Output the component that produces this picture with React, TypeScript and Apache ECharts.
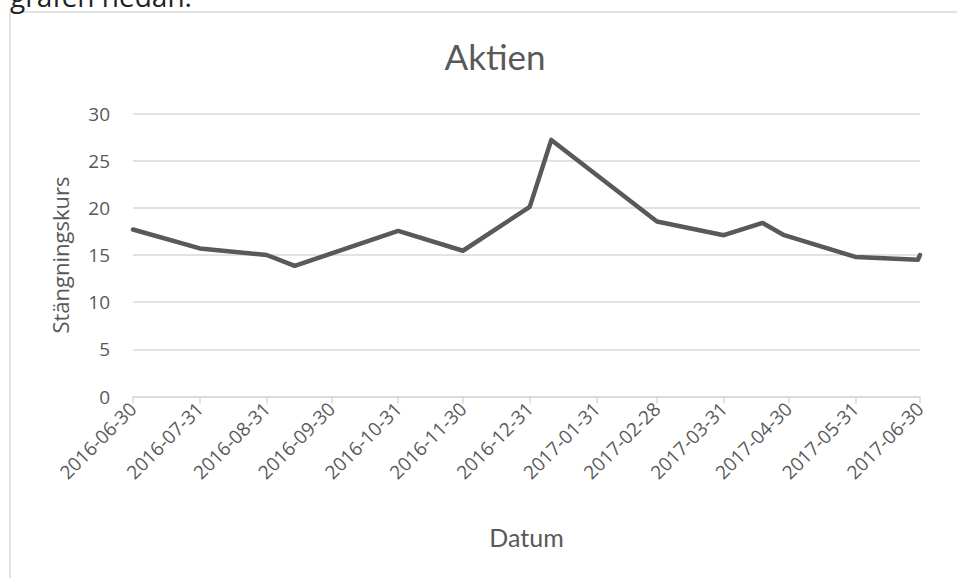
import React, { useEffect, useRef } from "react";
import * as echarts from "echarts";

// Data
const dates: string[] = [
  "2016-06-30", "2016-07-31", "2016-08-31", "2016-09-13", "2016-10-31",
  "2016-11-30", "2016-12-31", "2017-01-10", "2017-02-28", "2017-03-31",
  "2017-04-18", "2017-04-28", "2017-05-31", "2017-06-29", "2017-06-30",
];
const closes: number[] = [
  17.7, 15.7, 15.0, 13.85, 17.55,
  15.45, 20.1, 27.2, 18.55, 17.1,
  18.4, 17.1, 14.8, 14.5, 15.0,
];
const tickDates: string[] = [
  "2016-06-30", "2016-07-31", "2016-08-31", "2016-09-30", "2016-10-31",
  "2016-11-30", "2016-12-31", "2017-01-31", "2017-02-28", "2017-03-31",
  "2017-04-30", "2017-05-31", "2017-06-30",
];

const DAY = 86400000;
const toTs = (s: string) => {
  const [y, m, d] = s.split("-").map(Number);
  return Date.UTC(y, m - 1, d);
};
const pad = (n: number) => (n < 10 ? "0" + n : "" + n);
const fmt = (v: number) => {
  const d = new Date(Math.round(v / DAY) * DAY);
  return d.getUTCFullYear() + "-" + pad(d.getUTCMonth() + 1) + "-" + pad(d.getUTCDate());
};

export default function App() {
  const ref = useRef<HTMLDivElement>(null);
  useEffect(() => {
    if (!ref.current) return;
    const chart = echarts.init(ref.current, undefined, { renderer: "svg" });
    const ticks = tickDates.map(toTs);
    const geo = "Lato, 'Open Sans', sans-serif";
    const sans = "'Open Sans', 'Noto Sans', sans-serif";
    chart.setOption({
      animation: false,
      backgroundColor: "#ffffff",
      textStyle: { fontFamily: sans },
      title: {
        text: "Aktien",
        left: 490,
        top: 33,
        textAlign: "center",
        textStyle: { fontFamily: geo, fontSize: 35, fontWeight: "normal", color: "#595959" },
      },
      graphic: [
        {
          type: "rect",
          shape: { x: 10, y: 12, width: 1200, height: 1000 },
          style: { fill: "none", stroke: "#d9d9d9", lineWidth: 1.5 },
          silent: true,
        },
        {
          type: "text",
          x: 10,
          y: -18,
          style: { text: "grafen nedan.", fontFamily: sans, fontSize: 28, fill: "#222222" },
          silent: true,
        },
      ],
      grid: { left: 133, right: 37, top: 113.5, bottom: 181.5, containLabel: false },
      xAxis: {
        type: "value",
        min: ticks[0],
        max: ticks[ticks.length - 1],
        name: "Datum",
        nameLocation: "middle",
        nameGap: 128,
        nameTextStyle: { fontFamily: geo, fontSize: 25, color: "#595959" },
        axisLine: { show: true, lineStyle: { color: "#d9d9d9", width: 1.5 } },
        axisTick: { show: true, length: 7, customValues: ticks, lineStyle: { color: "#d9d9d9", width: 1.5 } },
        axisLabel: {
          customValues: ticks,
          rotate: 45,
          margin: 9,
          fontSize: 19,
          fontFamily: sans,
          color: "#595959",
          formatter: (v: number) => fmt(v),
          hideOverlap: false,
          showMinLabel: true,
          showMaxLabel: true,
        },
        splitLine: { show: false },
      },
      yAxis: {
        type: "value",
        min: 0,
        max: 30,
        interval: 5,
        name: "Stängningskurs",
        nameLocation: "middle",
        nameRotate: 90,
        nameGap: 62,
        nameTextStyle: { fontFamily: sans, fontSize: 22, color: "#595959" },
        axisLine: { show: false },
        axisTick: { show: false },
        axisLabel: { margin: 23, fontSize: 19, fontFamily: sans, color: "#595959" },
        splitLine: { lineStyle: { color: "#d9d9d9", width: 1.5 } },
      },
      series: [
        {
          type: "line",
          data: dates.map((d, i) => [toTs(d), closes[i]]),
          showSymbol: false,
          lineStyle: { color: "#595959", width: 4.5, cap: "round", join: "round" },
        },
      ],
    });
    return () => chart.dispose();
  }, []);
  return (
    <div
      ref={ref}
      style={{ position: "fixed", left: 0, top: 0, width: 957, height: 578 }}
    />
  );
}
